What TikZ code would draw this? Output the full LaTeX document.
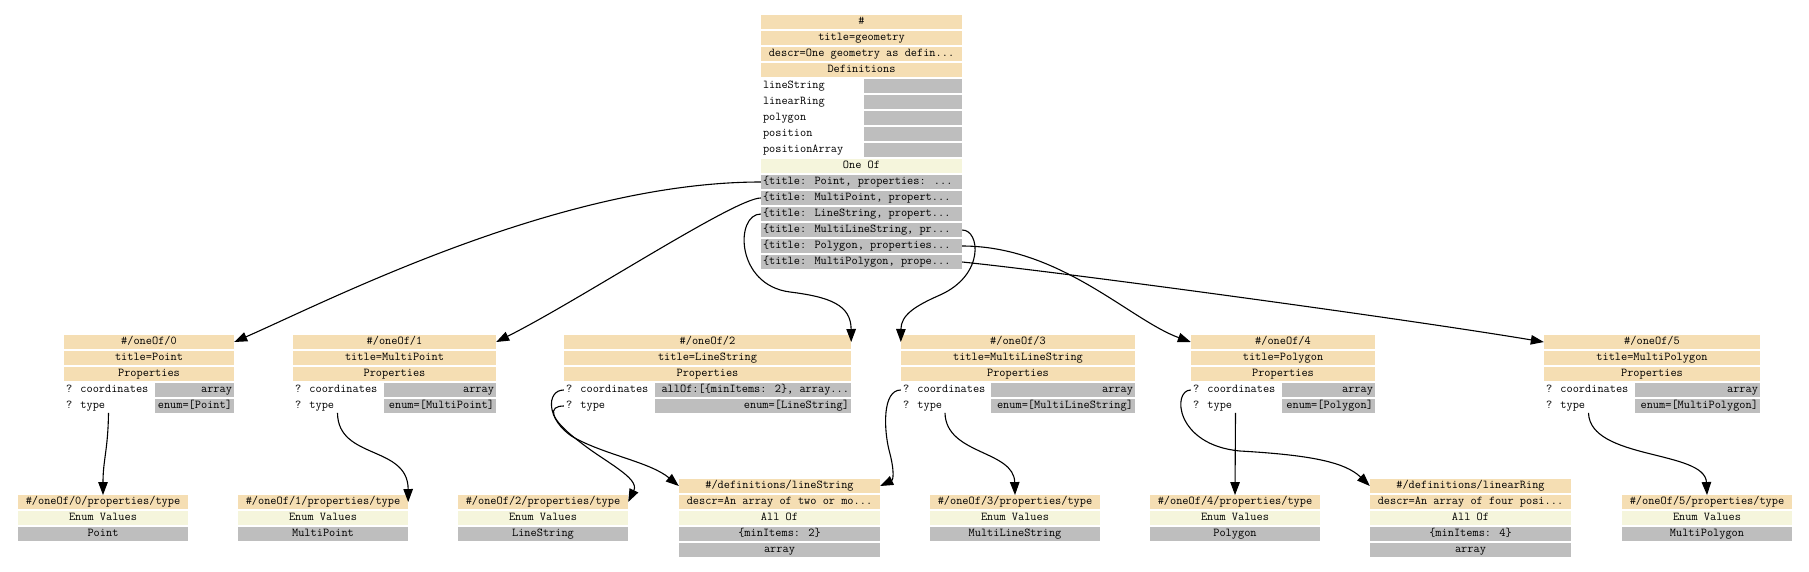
\documentclass[tikz,border=0pt]{standalone}
\usepackage{fontspec}
\usetikzlibrary{arrows.meta}
\definecolor{wheatc}{HTML}{F5DEB3}
\definecolor{beigec}{HTML}{F5F5DC}
\definecolor{silverc}{HTML}{BEBEBE}
\newcommand\tcell[7]{%
  \pgfmathsetmacro\cellw{#4-#3}%
  \pgfmathsetmacro\cellt{#4-#3-4}%
  \node[#2, minimum width=\cellw pt] (#1) at ({(#3+#4)/2},#5) {\makebox[\cellt pt][#6]{#7}};%
}
\tikzset{
  cellc/.style={inner xsep=2pt, inner ysep=0pt, minimum height=13.5pt,
    text height=7.5pt, text depth=2.2pt, font=\ttfamily\fontsize{12}{12}\selectfont},
  hdrc/.style={cellc, fill=wheatc},
  litc/.style={cellc, fill=beigec},
  valc/.style={cellc, fill=silverc},
  lblc/.style={cellc},
  conn/.style={line width=1.1pt, -{Triangle[length=13pt,width=9.5pt]}},
}
\begin{document}
\begin{tikzpicture}[x=1pt,y=-1pt]
\useasboundingbox (0,0) rectangle (1809,571);
% ---------- root ----------
\tcell{r0}{hdrc}{761}{962}{22}{c}{\#}
\tcell{r1}{hdrc}{761}{962}{38}{c}{title=geometry}
\tcell{r2}{hdrc}{761}{962}{54}{c}{descr=One geometry as defin...}
\tcell{r3}{hdrc}{761}{962}{70}{c}{Definitions}
\tcell{r4}{lblc}{761}{862}{86}{l}{lineString}
\tcell{g4}{valc}{864}{962}{86}{c}{}
\tcell{r5}{lblc}{761}{862}{102}{l}{linearRing}
\tcell{g5}{valc}{864}{962}{102}{c}{}
\tcell{r6}{lblc}{761}{862}{118}{l}{polygon}
\tcell{g6}{valc}{864}{962}{118}{c}{}
\tcell{r7}{lblc}{761}{862}{134}{l}{position}
\tcell{g7}{valc}{864}{962}{134}{c}{}
\tcell{r8}{lblc}{761}{862}{150}{l}{positionArray}
\tcell{g8}{valc}{864}{962}{150}{c}{}
\tcell{r9}{litc}{761}{962}{166}{c}{One Of}
\tcell{r10}{valc}{761}{962}{182}{l}{\{title: Point, properties: ...}
\tcell{r11}{valc}{761}{962}{198}{l}{\{title: MultiPoint, propert...}
\tcell{r12}{valc}{761}{962}{214}{l}{\{title: LineString, propert...}
\tcell{r13}{valc}{761}{962}{230}{l}{\{title: MultiLineString, pr...}
\tcell{r14}{valc}{761}{962}{246}{l}{\{title: Polygon, properties...}
\tcell{r15}{valc}{761}{962}{262}{l}{\{title: MultiPolygon, prope...}
% ---------- oneOf/0 ----------
\tcell{o0h}{hdrc}{64}{234}{342}{c}{\#/oneOf/0}
\tcell{o0n}{hdrc}{64}{234}{358}{c}{title=Point}
\tcell{o0p}{hdrc}{64}{234}{374}{c}{Properties}
\tcell{o0c}{lblc}{64}{153}{390}{l}{? coordinates}
\tcell{o0cv}{valc}{155}{234}{390}{r}{array}
\tcell{o0t}{lblc}{64}{153}{406}{l}{? type}
\tcell{o0tv}{valc}{155}{234}{406}{r}{enum=[Point]}
% ---------- oneOf/1 ----------
\tcell{o1h}{hdrc}{293}{496}{342}{c}{\#/oneOf/1}
\tcell{o1n}{hdrc}{293}{496}{358}{c}{title=MultiPoint}
\tcell{o1p}{hdrc}{293}{496}{374}{c}{Properties}
\tcell{o1c}{lblc}{293}{382}{390}{l}{? coordinates}
\tcell{o1cv}{valc}{384}{496}{390}{r}{array}
\tcell{o1t}{lblc}{293}{382}{406}{l}{? type}
\tcell{o1tv}{valc}{384}{496}{406}{r}{enum=[MultiPoint]}
% ---------- oneOf/2 ----------
\tcell{o2h}{hdrc}{564}{851}{342}{c}{\#/oneOf/2}
\tcell{o2n}{hdrc}{564}{851}{358}{c}{title=LineString}
\tcell{o2p}{hdrc}{564}{851}{374}{c}{Properties}
\tcell{o2c}{lblc}{564}{653}{390}{l}{? coordinates}
\tcell{o2cv}{valc}{655}{851}{390}{r}{allOf:[\{minItems: 2\}, array...}
\tcell{o2t}{lblc}{564}{653}{406}{l}{? type}
\tcell{o2tv}{valc}{655}{851}{406}{r}{enum=[LineString]}
% ---------- oneOf/3 ----------
\tcell{o3h}{hdrc}{901}{1135}{342}{c}{\#/oneOf/3}
\tcell{o3n}{hdrc}{901}{1135}{358}{c}{title=MultiLineString}
\tcell{o3p}{hdrc}{901}{1135}{374}{c}{Properties}
\tcell{o3c}{lblc}{901}{989}{390}{l}{? coordinates}
\tcell{o3cv}{valc}{991}{1135}{390}{r}{array}
\tcell{o3t}{lblc}{901}{989}{406}{l}{? type}
\tcell{o3tv}{valc}{991}{1135}{406}{r}{enum=[MultiLineString]}
% ---------- oneOf/4 ----------
\tcell{o4h}{hdrc}{1191}{1375}{342}{c}{\#/oneOf/4}
\tcell{o4n}{hdrc}{1191}{1375}{358}{c}{title=Polygon}
\tcell{o4p}{hdrc}{1191}{1375}{374}{c}{Properties}
\tcell{o4c}{lblc}{1191}{1280}{390}{l}{? coordinates}
\tcell{o4cv}{valc}{1282}{1375}{390}{r}{array}
\tcell{o4t}{lblc}{1191}{1280}{406}{l}{? type}
\tcell{o4tv}{valc}{1282}{1375}{406}{r}{enum=[Polygon]}
% ---------- oneOf/5 ----------
\tcell{o5h}{hdrc}{1544}{1760}{342}{c}{\#/oneOf/5}
\tcell{o5n}{hdrc}{1544}{1760}{358}{c}{title=MultiPolygon}
\tcell{o5p}{hdrc}{1544}{1760}{374}{c}{Properties}
\tcell{o5c}{lblc}{1544}{1633}{390}{l}{? coordinates}
\tcell{o5cv}{valc}{1635}{1760}{390}{r}{array}
\tcell{o5t}{lblc}{1544}{1633}{406}{l}{? type}
\tcell{o5tv}{valc}{1635}{1760}{406}{r}{enum=[MultiPolygon]}
% ---------- bottom: property types ----------
\tcell{p0h}{hdrc}{18}{188}{502}{c}{\#/oneOf/0/properties/type}
\tcell{p0e}{litc}{18}{188}{518}{c}{Enum Values}
\tcell{p0v}{valc}{18}{188}{534}{c}{Point}
\tcell{p1h}{hdrc}{238}{408}{502}{c}{\#/oneOf/1/properties/type}
\tcell{p1e}{litc}{238}{408}{518}{c}{Enum Values}
\tcell{p1v}{valc}{238}{408}{534}{c}{MultiPoint}
\tcell{p2h}{hdrc}{458}{628}{502}{c}{\#/oneOf/2/properties/type}
\tcell{p2e}{litc}{458}{628}{518}{c}{Enum Values}
\tcell{p2v}{valc}{458}{628}{534}{c}{LineString}
\tcell{p3h}{hdrc}{930}{1100}{502}{c}{\#/oneOf/3/properties/type}
\tcell{p3e}{litc}{930}{1100}{518}{c}{Enum Values}
\tcell{p3v}{valc}{930}{1100}{534}{c}{MultiLineString}
\tcell{p4h}{hdrc}{1150}{1320}{502}{c}{\#/oneOf/4/properties/type}
\tcell{p4e}{litc}{1150}{1320}{518}{c}{Enum Values}
\tcell{p4v}{valc}{1150}{1320}{534}{c}{Polygon}
\tcell{p5h}{hdrc}{1622}{1792}{502}{c}{\#/oneOf/5/properties/type}
\tcell{p5e}{litc}{1622}{1792}{518}{c}{Enum Values}
\tcell{p5v}{valc}{1622}{1792}{534}{c}{MultiPolygon}
% ---------- bottom: definitions ----------
\tcell{d1h}{hdrc}{679}{880}{486}{c}{\#/definitions/lineString}
\tcell{d1d}{hdrc}{679}{880}{502}{c}{descr=An array of two or mo...}
\tcell{d1a}{litc}{679}{880}{518}{c}{All Of}
\tcell{d1m}{valc}{679}{880}{534}{c}{\{minItems: 2\}}
\tcell{d1v}{valc}{679}{880}{550}{c}{array}
\tcell{d2h}{hdrc}{1370}{1571}{486}{c}{\#/definitions/linearRing}
\tcell{d2d}{hdrc}{1370}{1571}{502}{c}{descr=An array of four posi...}
\tcell{d2a}{litc}{1370}{1571}{518}{c}{All Of}
\tcell{d2m}{valc}{1370}{1571}{534}{c}{\{minItems: 4\}}
\tcell{d2v}{valc}{1370}{1571}{550}{c}{array}
% ---------- connectors ----------
\draw[conn] (r10.west) .. controls (560,182) and (330,300) .. (o0h.east);
\draw[conn] (r11.west) .. controls (735,198) and (580,300) .. (o1h.east);
\draw[conn] (r12.west) .. controls (735,214) and (735,285) .. (790,292)
                        .. controls (830,297) and (851,305) .. (o2h.east);
\draw[conn] (r13.east) .. controls (980,230) and (985,275) .. (940,295)
                        .. controls (915,306) and (901,315) .. (o3h.west);
\draw[conn] (r14.east) .. controls (1060,246) and (1130,320) .. (o4h.west);
\draw[conn] (r15.east) .. controls (1060,272) and (1400,318) .. (o5h.west);
\draw[conn] (o0t.south) .. controls (108,450) and (103,460) .. (p0h.north);
\draw[conn] (o1t.south) .. controls (338,460) and (408,445) .. (p1h.east);
\draw[conn] (o2t.west) .. controls (548,406) and (548,418) .. (580,442)
                        .. controls (605,462) and (640,478) .. (p2h.east);
\draw[conn] (o2c.west) .. controls (546,390) and (546,420) .. (573,437)
                        .. controls (605,455) and (650,462) .. (d1h.west);
\draw[conn] (o3c.west) .. controls (882,390) and (884,430) .. (889,450)
                        .. controls (895,472) and (893,480) .. (d1h.east);
\draw[conn] (o3t.south) .. controls (946,455) and (1014,450) .. (p3h.north);
\draw[conn] (o4t.south) -- (p4h.north);
\draw[conn] (o4c.west) .. controls (1172,390) and (1175,445) .. (1240,451)
                        .. controls (1310,455) and (1345,462) .. (d2h.west);
\draw[conn] (o5t.south) .. controls (1590,460) and (1705,450) .. (p5h.north);
\end{tikzpicture}
\end{document}
